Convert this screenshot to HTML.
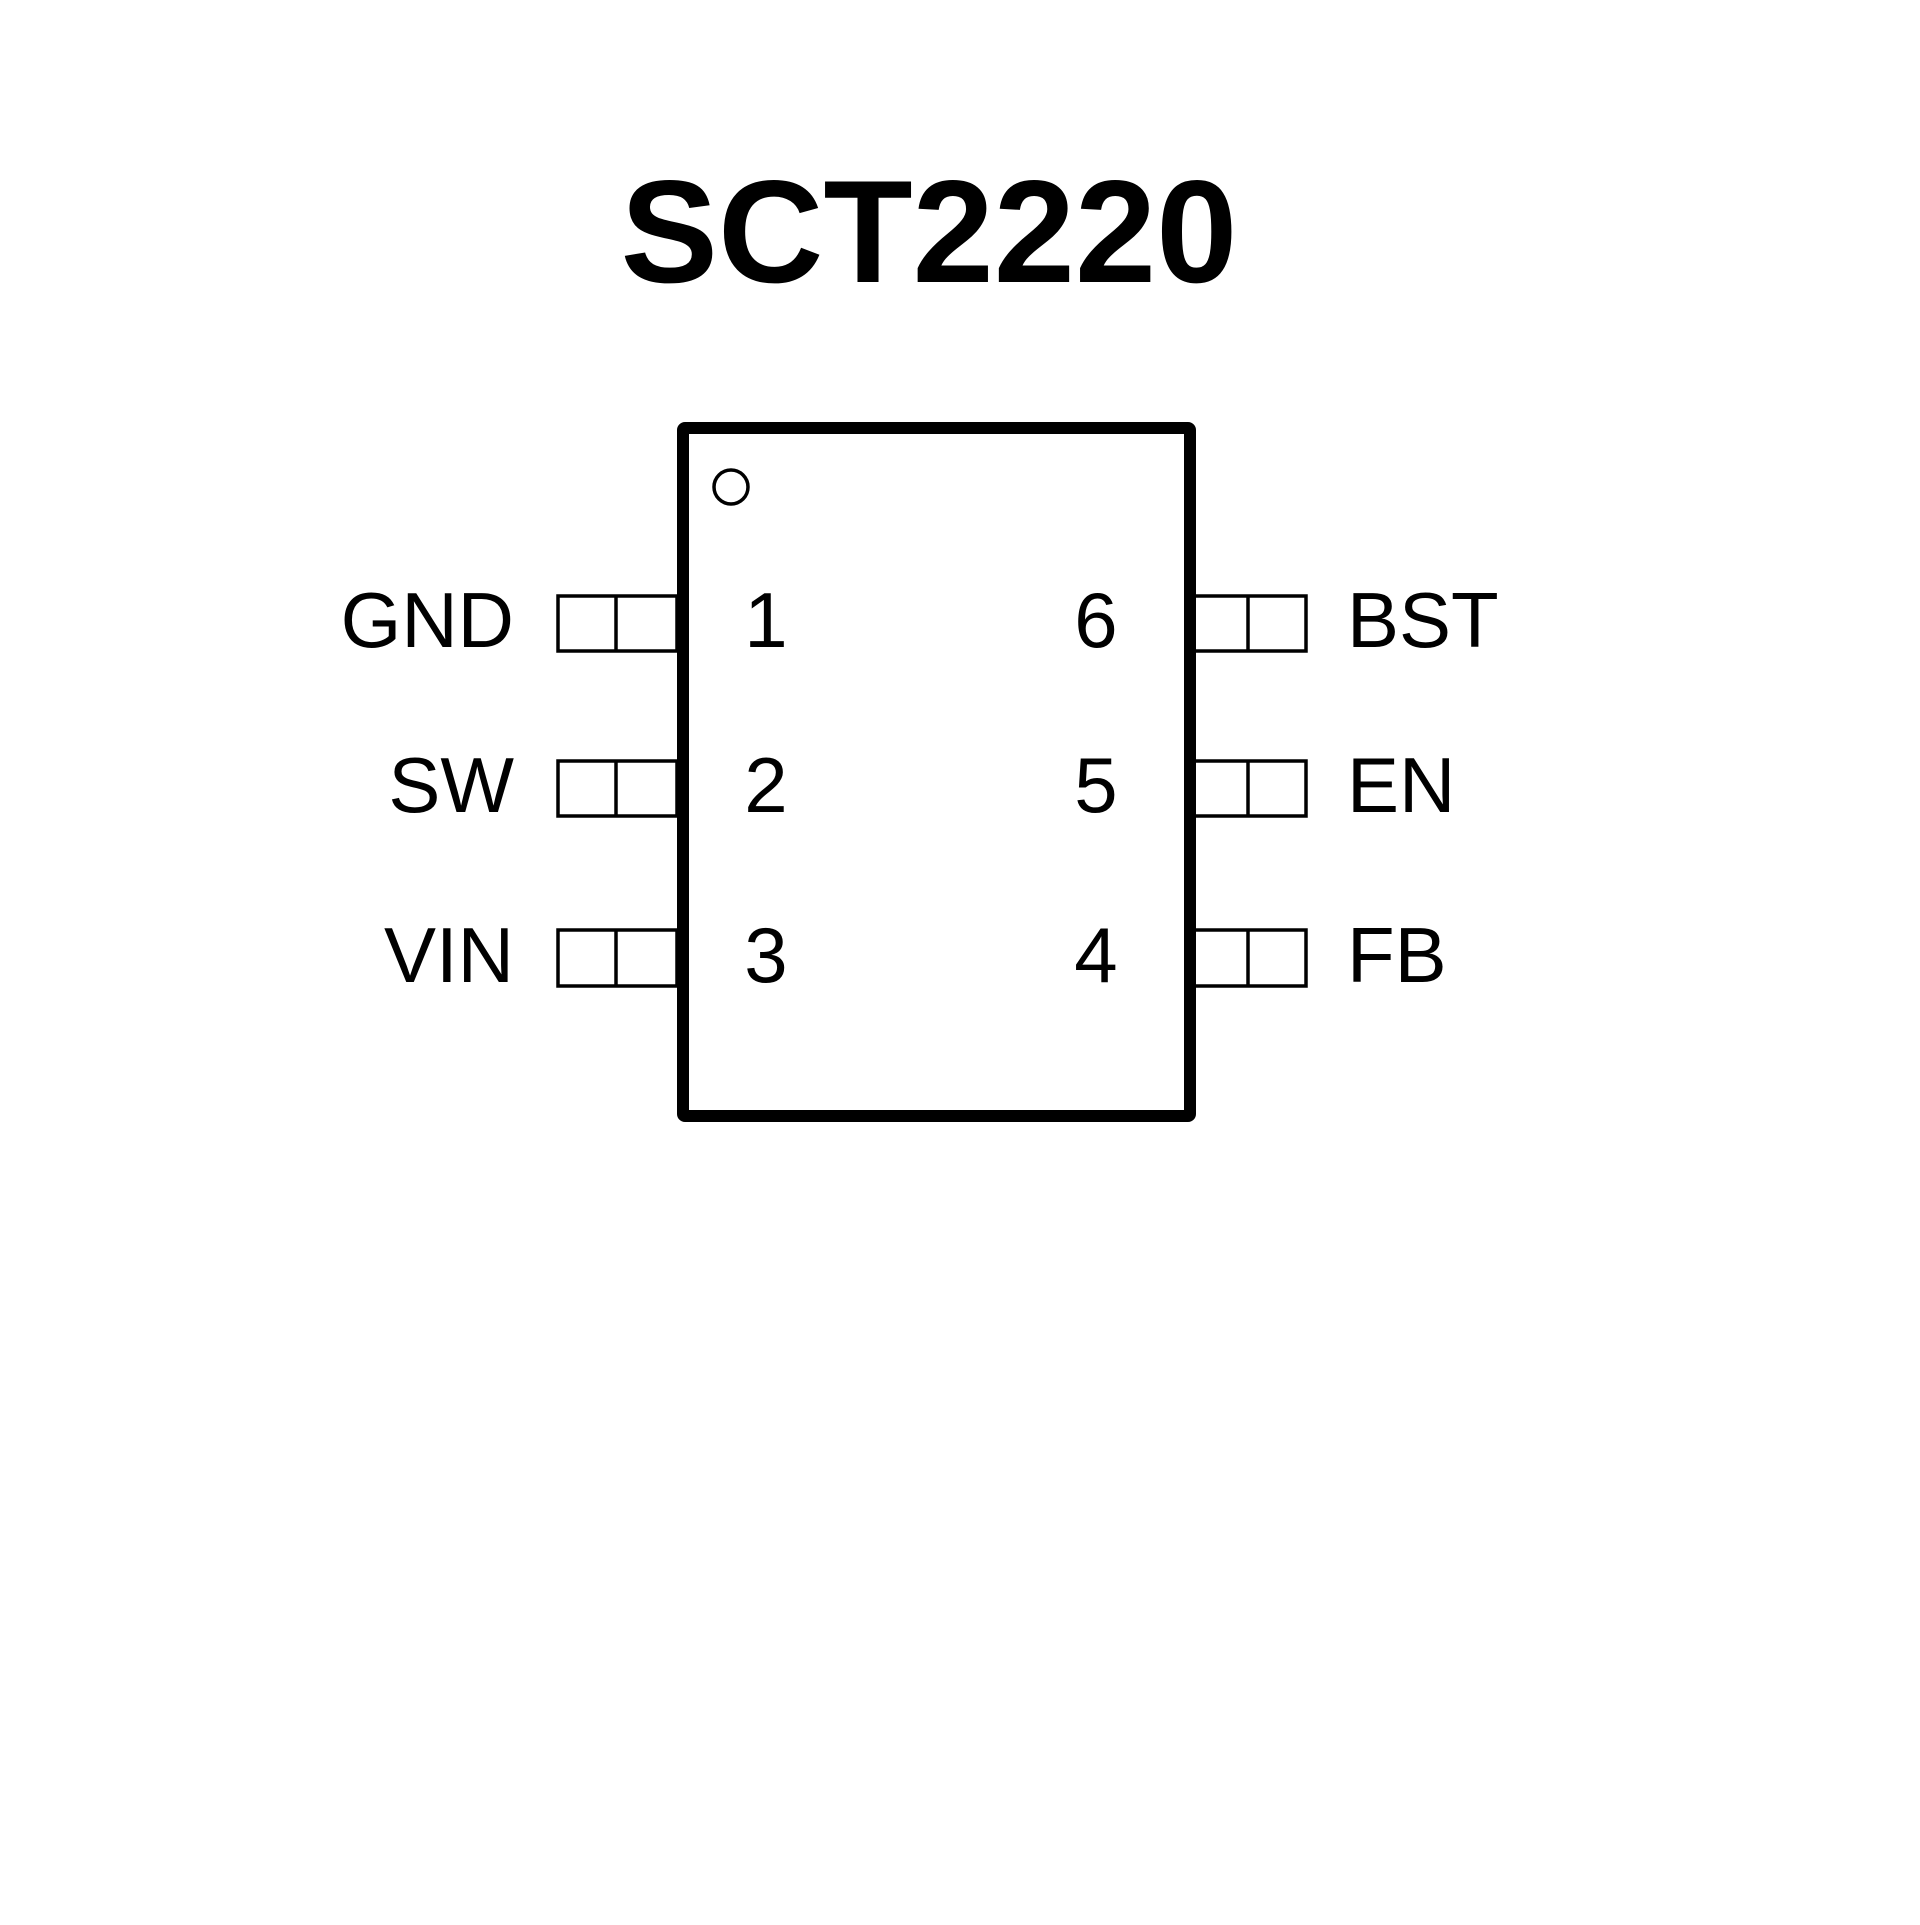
<!DOCTYPE html>
<html><head><meta charset="utf-8"><style>html,body{margin:0;padding:0;background:#fff}</style></head>
<body>
<svg width="1920" height="1920" viewBox="0 0 1920 1920" xmlns="http://www.w3.org/2000/svg">
<rect width="1920" height="1920" fill="#fff"/>
<text x="929" y="282" text-anchor="middle" font-family="Liberation Sans, sans-serif" font-weight="bold" font-size="146" fill="#000">SCT2220</text>
<g fill="none" stroke="#000" stroke-width="3.5">
<rect x="558" y="596" width="119" height="55"/><line x1="616" y1="596" x2="616" y2="651"/>
<rect x="558" y="761" width="119" height="55"/><line x1="616" y1="761" x2="616" y2="816"/>
<rect x="558" y="930" width="119" height="56"/><line x1="616" y1="930" x2="616" y2="986"/>
<rect x="1190" y="596" width="116" height="55"/><line x1="1248" y1="596" x2="1248" y2="651"/>
<rect x="1190" y="761" width="116" height="55"/><line x1="1248" y1="761" x2="1248" y2="816"/>
<rect x="1190" y="930" width="116" height="56"/><line x1="1248" y1="930" x2="1248" y2="986"/>
</g>
<rect x="683" y="428" width="507" height="688" fill="none" stroke="#000" stroke-width="12" rx="2"/>
<circle cx="731" cy="487" r="17" fill="none" stroke="#000" stroke-width="3.5"/>
<g font-family="Liberation Sans, sans-serif" font-size="78" fill="#000">
<text x="514" y="647" text-anchor="end">GND</text>
<text x="514" y="812" text-anchor="end">SW</text>
<text x="514" y="982" text-anchor="end">VIN</text>
<text x="1347" y="647">BST</text>
<text x="1347" y="812">EN</text>
<text x="1347" y="982">FB</text>
<text x="766" y="647" text-anchor="middle">1</text>
<text x="766" y="812" text-anchor="middle">2</text>
<text x="766" y="982" text-anchor="middle">3</text>
<text x="1096" y="647" text-anchor="middle">6</text>
<text x="1096" y="812" text-anchor="middle">5</text>
<text x="1096" y="982" text-anchor="middle">4</text>
</g>
</svg>
</body></html>
